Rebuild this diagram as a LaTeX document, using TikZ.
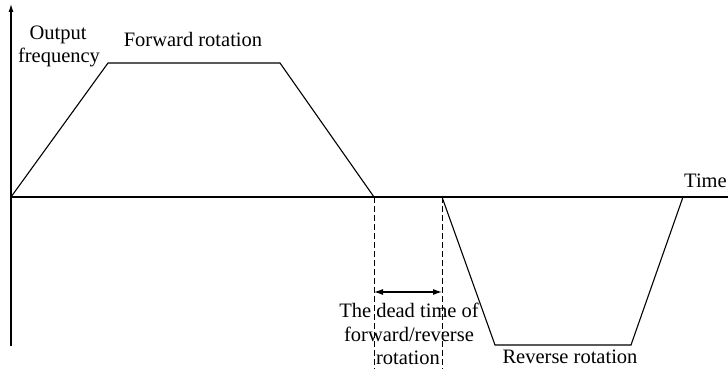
\documentclass[tikz,border=0pt]{standalone}
\usepackage{fontspec}
\setmainfont{Liberation Serif}
\usetikzlibrary{arrows.meta}
\tikzset{
  curve/.style={line width=1.1pt},
  deadline/.style={line width=1pt, dash pattern=on 6pt off 3pt},
  lbl/.style={inner sep=0pt, font=\fontsize{20.5}{24.5}\selectfont, align=center}
}
\begin{document}
\begin{tikzpicture}[x=1pt, y=-1pt]
  \useasboundingbox (0,0) rectangle (728,369);
  % axes
  \coordinate (o) at (11,197);
  \coordinate (ybot) at (11,346);
  \coordinate (ytop) at (11,4);
  \coordinate (tend) at (740,197);
  \draw[curve, -{Latex[length=8pt,width=5pt]}] (ybot) -- (ytop);
  \draw[curve] (o) -- (tend);
  % forward rotation
  \coordinate (f1) at (108,63);
  \coordinate (f2) at (280,63);
  \coordinate (f3) at (374,197);
  \draw[curve] (o) -- (f1) -- (f2) -- (f3);
  % reverse rotation
  \coordinate (r0) at (442,197);
  \coordinate (r1) at (495,345);
  \coordinate (r2) at (631,345);
  \coordinate (r3) at (683,197);
  \draw[curve] (r0) -- (r1) -- (r2) -- (r3);
  % dead time
  \coordinate (d1) at (374,369);
  \coordinate (d2) at (442,369);
  \draw[deadline] (f3) -- (d1);
  \draw[deadline] (r0) -- (d2);
  \coordinate (a1) at (374,292);
  \coordinate (a2) at (442,292);
  \draw[curve, {Latex[length=9pt,width=6pt]}-{Latex[length=9pt,width=6pt]}] (a1) -- (a2);
  % labels
  \node[lbl, anchor=base] (fout) at (58,40) {Output};
  \node[lbl, anchor=base] (ffreq) at (59,63) {frequency};
  \node[lbl, anchor=base] (fwd) at (193,47) {Forward rotation};
  \node[lbl, anchor=base west] (time) at (684,187) {Time};
  \node[lbl, anchor=base] (dead1) at (409,317) {The dead time of};
  \node[lbl, anchor=base] (dead2) at (409,341) {forward/reverse};
  \node[lbl, anchor=base] (dead3) at (408,364) {rotation};
  \node[lbl, anchor=base] (rev) at (570,363) {Reverse rotation};
\end{tikzpicture}
\end{document}
